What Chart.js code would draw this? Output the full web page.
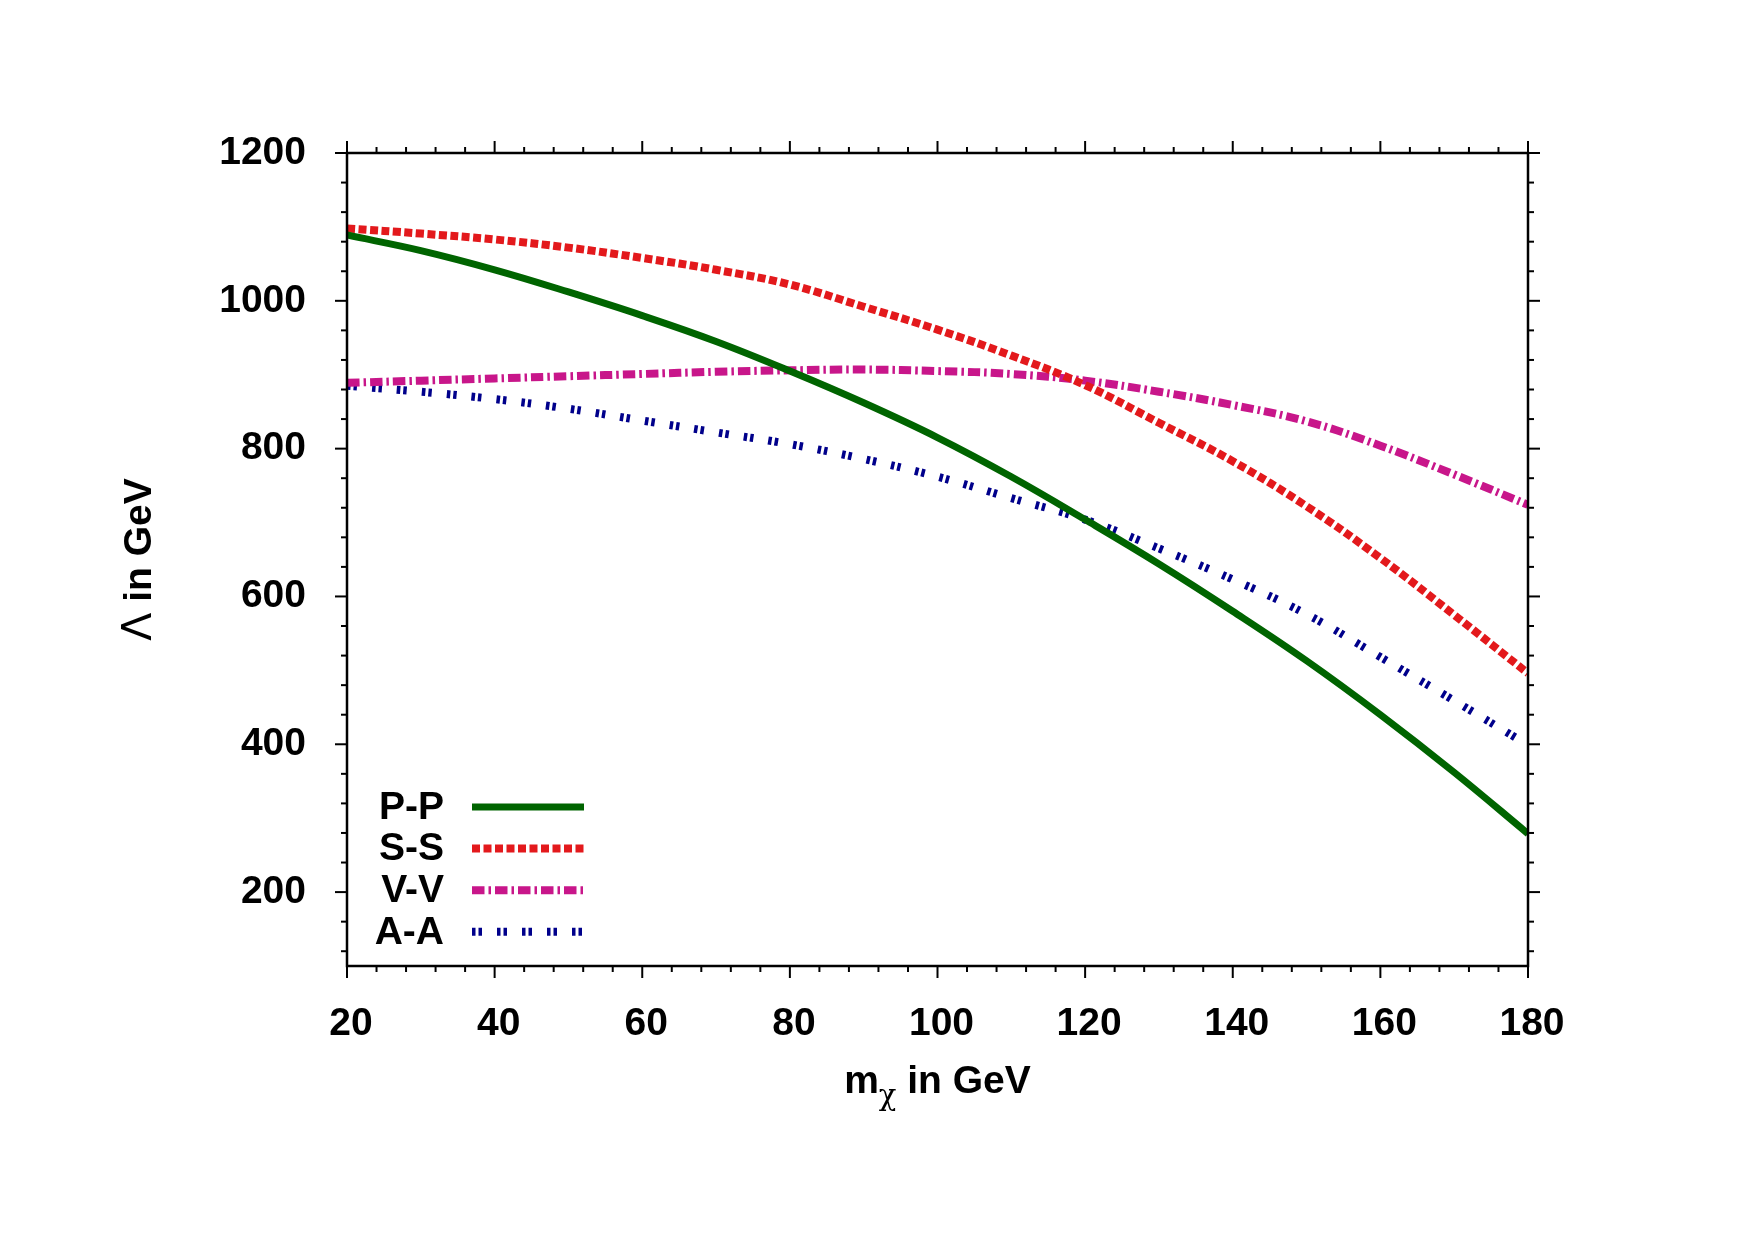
<!DOCTYPE html>
<html>
<head>
<meta charset="utf-8">
<script src="https://cdn.jsdelivr.net/npm/chart.js@4.4.1/dist/chart.umd.min.js"></script>
<style>
  html, body { margin: 0; padding: 0; background: #ffffff; }
  #wrap { width: 1755px; height: 1240px; }
</style>
</head>
<body>
<div id="wrap"><canvas id="c" width="1755" height="1240"></canvas></div>
<script>
// ---- data ----
const massValues = [20, 30, 40, 50, 60, 70, 80, 90, 100, 110, 120, 130, 140, 150, 160, 170, 180];
const ppValues = [1089, 1068, 1042, 1012, 980, 945, 905, 862, 815, 762, 704, 644, 580, 513, 440, 362, 279];
const ssValues = [1098, 1091, 1083, 1072, 1058, 1042, 1022, 992, 961, 926, 886, 835, 783, 722, 652, 575, 496];
const vvValues = [889, 892, 895, 898, 901, 904, 906, 907, 905, 901, 892, 877, 859, 837, 804, 765, 724];
const aaValues = [885, 877, 867, 854, 838, 822, 806, 786, 762, 733, 704, 665, 623, 576, 518, 459, 399];
const seriesLabels = ['P-P', 'S-S', 'V-V', 'A-A'];
const xTickValues = [20, 40, 60, 80, 100, 120, 140, 160, 180];
const yTickValues = [200, 400, 600, 800, 1000, 1200];

const FONT = '"Liberation Sans", Arial, Helvetica, sans-serif';

function pts(vals) { return massValues.map((m, i) => ({ x: m, y: vals[i] })); }

const styles = [
  { color: '#006400', dash: [], width: 7 },
  { color: '#e3191c', dash: [8, 3.5], width: 8 },
  { color: '#c8168a', dash: [12.5, 4, 2.5, 4], width: 8 },
  { color: '#00008b', dash: [3.5, 3, 3.5, 15], width: 8 }
];
const allValues = [ppValues, ssValues, vvValues, aaValues];

const datasets = seriesLabels.map((lab, i) => ({
  label: lab,
  data: pts(allValues[i]),
  borderColor: styles[i].color,
  backgroundColor: styles[i].color,
  borderDash: styles[i].dash,
  borderWidth: styles[i].width,
  borderCapStyle: 'butt',
  pointRadius: 0,
  fill: false,
  tension: 0.4
}));

// frame, outward ticks, legend, axis titles
const decor = {
  id: 'decor',
  afterDraw(chart) {
    const { ctx, chartArea: a, scales: { x, y } } = chart;
    ctx.save();
    ctx.strokeStyle = '#000';
    ctx.lineCap = 'butt';
    ctx.lineWidth = 2.5;
    ctx.strokeRect(a.left, a.top, a.right - a.left, a.bottom - a.top);
    ctx.lineWidth = 2;
    const seg = (x1, y1, x2, y2) => { ctx.beginPath(); ctx.moveTo(x1, y1); ctx.lineTo(x2, y2); ctx.stroke(); };
    // x ticks: major every 20, minor every 4
    for (let v = x.min; v <= x.max + 1e-9; v += 4) {
      const px = x.getPixelForValue(v);
      const major = xTickValues.includes(v);
      const L = major ? 12 : 6;
      seg(px, a.bottom, px, a.bottom + L);
      seg(px, a.top, px, a.top - L);
    }
    // y ticks: major every 200, minor every 40
    for (let v = 1200; v > y.min; v -= 40) {
      const py = y.getPixelForValue(v);
      const major = yTickValues.includes(v);
      const L = major ? 12 : 6;
      seg(a.left, py, a.left - L, py);
      seg(a.right, py, a.right + L, py);
    }

    // legend
    const legTextRight = a.left + 97;
    const lineX1 = a.left + 125, lineX2 = a.left + 237;
    const row0 = 807, rowStep = 41.6;
    ctx.font = 'bold 39px ' + FONT;
    ctx.textAlign = 'right';
    ctx.textBaseline = 'middle';
    chart.data.datasets.forEach((ds, i) => {
      const yy = row0 + i * rowStep;
      ctx.fillStyle = '#000';
      ctx.fillText(ds.label, legTextRight, yy + 1);
      ctx.save();
      ctx.strokeStyle = ds.borderColor;
      ctx.lineWidth = ds.borderWidth;
      ctx.setLineDash(ds.borderDash);
      seg(lineX1, yy, lineX2, yy);
      ctx.restore();
    });

    // x axis title: m_χ in GeV
    ctx.fillStyle = '#000';
    ctx.textAlign = 'left';
    ctx.textBaseline = 'alphabetic';
    const fMain = 'bold 39px ' + FONT;
    const fSub = '29px "DejaVu Serif", serif';
    ctx.font = fMain; const wm = ctx.measureText('m').width;
    ctx.font = fSub; const wc = ctx.measureText('χ').width;
    ctx.font = fMain; const wr = ctx.measureText(' in GeV').width;
    const cx = (a.left + a.right) / 2;
    let sx = cx - (wm + wc + wr) / 2;
    const base = 1093;
    ctx.font = fMain; ctx.fillText('m', sx, base); sx += wm;
    ctx.font = fSub; ctx.fillText('χ', sx, base + 12); sx += wc;
    ctx.font = fMain; ctx.fillText(' in GeV', sx, base);

    // y axis title: Λ in GeV
    ctx.save();
    ctx.translate(151, (a.top + a.bottom) / 2);
    ctx.rotate(-Math.PI / 2);
    const fL = '41px "DejaVu Sans", sans-serif';
    ctx.font = fL; const wl = ctx.measureText('Λ').width;
    ctx.font = fMain; const wg = ctx.measureText(' in GeV').width;
    let ty = -(wl + wg) / 2;
    ctx.font = fL; ctx.fillText('Λ', ty, 0); ty += wl;
    ctx.font = fMain; ctx.fillText(' in GeV', ty, 0);
    ctx.restore();

    ctx.restore();
  }
};

new Chart(document.getElementById('c'), {
  type: 'line',
  data: { datasets },
  options: {
    responsive: false,
    animation: false,
    layout: { padding: { left: 0, top: 153, right: 227, bottom: 0 } },
    plugins: { legend: { display: false }, tooltip: { enabled: false } },
    scales: {
      x: {
        type: 'linear',
        min: 20, max: 180,
        afterFit(s) { s.height = 274; },
        afterBuildTicks(s) { s.ticks = xTickValues.map(v => ({ value: v })); },
        grid: { display: false },
        border: { display: false },
        ticks: {
          color: '#000',
          font: { family: FONT, size: 39, weight: 'bold' },
          padding: 27,
          labelOffset: 4,
          maxRotation: 0,
          autoSkip: false,
          callback: (v) => String(v)
        }
      },
      y: {
        type: 'linear',
        min: 100, max: 1200,
        afterFit(s) { s.width = 347; },
        afterBuildTicks(s) { s.ticks = yTickValues.map(v => ({ value: v })); },
        grid: { display: false },
        border: { display: false },
        ticks: {
          color: '#000',
          font: { family: FONT, size: 39, weight: 'bold' },
          padding: 33,
          autoSkip: false,
          callback: (v) => String(v)
        }
      }
    }
  },
  plugins: [decor]
});
</script>
</body>
</html>
